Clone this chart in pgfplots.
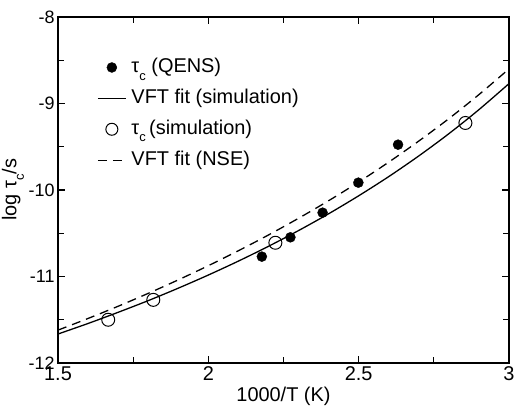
\documentclass[border=0pt]{standalone}
\usepackage{fontspec}
\setmainfont{Liberation Sans}
\usepackage{pgfplots}
\pgfplotsset{compat=1.18}
\newcommand{\tauc}{τ\raisebox{-0.38em}{\fontsize{13}{13}\selectfont c}}
\begin{document}
\begin{tikzpicture}
\useasboundingbox (-58bp,-48bp) rectangle (459bp,363bp);
\begin{axis}[
  at={(0,0)}, anchor=south west,
  scale only axis, width=451bp, height=346bp,
  xmin=1.5, xmax=3, ymin=-12, ymax=-8,
  xtick={1.5,2,2.5,3}, xticklabels={1.5,2,2.5,3},
  ytick={-12,-11,-10,-9,-8}, yticklabels={-12,-11,-10,-9,-8},
  minor xtick={1.75,2.25,2.75},
  minor ytick={-11.5,-10.5,-9.5,-8.5},
  tick align=inside,
  major tick length=7bp, minor tick length=6bp,
  every tick/.style={black, line width=1.1pt},
  axis line style={line width=1.3pt},
  xticklabel style={font=\fontsize{20}{24}\selectfont},
  yticklabel style={font=\fontsize{18}{21}\selectfont},
  every axis x label/.style={at={(axis description cs:0.5,-0.095)}, anchor=center},
  every axis y label/.style={at={(axis description cs:-0.0998,0.5)}, rotate=90, anchor=center},
  label style={font=\fontsize{20}{24}\selectfont},
  xlabel={1000/T (K)},
  ylabel={log \tauc/s},
  legend style={draw=none, fill=none, font=\fontsize{20}{24}\selectfont,
    at={(axis description cs:0.0865,0.895)}, anchor=north west,
    inner sep=0pt, row sep=3bp,
    /tikz/every odd column/.style={column sep=3bp},
    nodes={inner sep=2pt, text height=17pt, text depth=7pt}},
  legend cell align=left,
]
\addlegendimage{legend image code/.code={\fill[black] (14bp,0) circle (5bp);}}
\addlegendentry{\tauc\ (QENS)}
\addlegendimage{legend image code/.code={\draw[black, line width=1.3pt] (0bp,0) -- (28bp,0);}}
\addlegendentry{VFT fit (simulation)}
\addlegendimage{legend image code/.code={\draw[black, line width=1pt, fill=white] (14bp,0) circle (6bp);}}
\addlegendentry{\tauc\,(simulation)}
\addlegendimage{legend image code/.code={\draw[black, line width=1.3pt, dash pattern=on 9bp off 6bp] (0bp,0) -- (28bp,0);}}
\addlegendentry{VFT fit (NSE)}

% VFT fit (simulation), solid
\addplot[black, line width=1.3pt, smooth, forget plot] coordinates {
(1.5,-11.665) (1.6,-11.543) (1.7,-11.414) (1.8,-11.279) (1.9,-11.135)
(2.0,-10.983) (2.1,-10.822) (2.2,-10.651) (2.3,-10.469) (2.4,-10.275)
(2.5,-10.067) (2.6,-9.845) (2.7,-9.606) (2.8,-9.349) (2.9,-9.071) (3.0,-8.770)};
% VFT fit (NSE), dashed
\addplot[black, line width=1.3pt, smooth, dash pattern=on 9bp off 6bp, forget plot] coordinates {
(1.5,-11.620) (1.6,-11.485) (1.7,-11.344) (1.8,-11.195) (1.9,-11.039)
(2.0,-10.875) (2.1,-10.702) (2.2,-10.520) (2.3,-10.327) (2.4,-10.124)
(2.5,-9.908) (2.6,-9.678) (2.7,-9.434) (2.8,-9.175) (2.9,-8.897) (3.0,-8.600)};
% tau_c (QENS)
\addplot[only marks, mark=*, mark size=5bp, black, forget plot] coordinates {
(2.178,-10.77) (2.273,-10.547) (2.380,-10.262) (2.499,-9.915) (2.631,-9.476)};
% tau_c (simulation)
\addplot[only marks, mark=o, mark size=6.5bp, black, line width=1pt,
  mark options={fill=white}, forget plot] coordinates {
(1.667,-11.50) (1.817,-11.27) (2.223,-10.61) (2.855,-9.225)};
\end{axis}
\end{tikzpicture}
\end{document}
